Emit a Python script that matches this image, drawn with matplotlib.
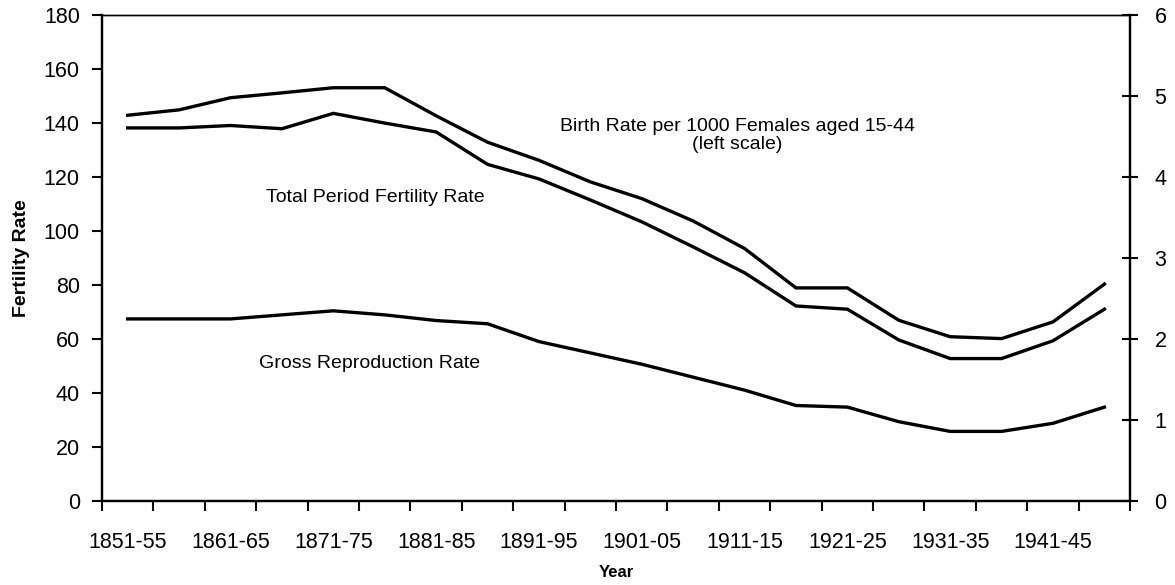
import numpy as np
import matplotlib.pyplot as plt

plt.rcParams['font.family'] = ['Liberation Sans', 'DejaVu Sans']

periods = ['1851-55', '1856-60', '1861-65', '1866-70', '1871-75', '1876-80',
           '1881-85', '1886-90', '1891-95', '1896-00', '1901-05', '1906-10',
           '1911-15', '1916-20', '1921-25', '1926-30', '1931-35', '1936-40',
           '1941-45', '1946-50']
# birth rate per 1000 females 15-44 (left scale)
birth = [143, 145, 149.5, 151.3, 153.2, 153.2, 142.8, 133, 126.3, 118.3,
         112.1, 103.8, 93.6, 79, 79, 67, 60.9, 60.2, 66.4, 80.4]
# total period fertility rate (right scale)
tpfr = [4.61, 4.61, 4.64, 4.60, 4.79, 4.67, 4.56, 4.16, 3.98, 3.72,
        3.45, 3.14, 2.82, 2.41, 2.37, 1.99, 1.76, 1.76, 1.98, 2.37]
# gross reproduction rate (right scale)
grr = [2.25, 2.25, 2.25, 2.30, 2.35, 2.30, 2.23, 2.19, 1.97, 1.83,
       1.69, 1.53, 1.37, 1.18, 1.16, 0.98, 0.86, 0.86, 0.96, 1.16]

x = np.arange(len(periods))

fig = plt.figure(figsize=(11.75, 5.85), dpi=100)
ax = fig.add_axes([0.0868, 0.1436, 0.875, 0.83])
ax2 = ax.twinx()

ax.plot(x, birth, color='k', lw=2.4, solid_joinstyle='miter')
ax2.plot(x, tpfr, color='k', lw=2.4, solid_joinstyle='miter')
ax2.plot(x, grr, color='k', lw=2.4, solid_joinstyle='miter')

ax.set_xlim(-0.5, len(periods) - 0.5)
ax.set_ylim(0, 180)
ax2.set_ylim(0, 6)
ax.set_yticks(np.arange(0, 181, 20))
ax2.set_yticks(np.arange(0, 7, 1))

# ticks on category boundaries, labels on every other category
ax.set_xticks(np.arange(-0.5, len(periods), 1))
ax.set_xticklabels([])
ax.set_xticks(x[::2], minor=True)
ax.set_xticklabels(periods[::2], minor=True)
ax.tick_params(axis='x', which='major', direction='out', length=7, width=1.5)
ax.tick_params(axis='x', which='minor', length=0, pad=22, labelsize=15.5)
ax.tick_params(axis='y', direction='out', length=7, width=1.5, pad=9, labelsize=15.5)
ax2.tick_params(axis='y', direction='inout', length=11, width=1.5, pad=12, labelsize=15.5)

for a in (ax, ax2):
    for s in ['left', 'right', 'bottom']:
        a.spines[s].set_linewidth(1.6)
    a.spines['top'].set_linewidth(1.0)

ax.set_ylabel('Fertility Rate', fontsize=14, fontweight='bold', labelpad=10)
ax.set_xlabel('Year', fontsize=12, fontweight='bold', labelpad=9)

ax.text(11.86, 135.5, 'Birth Rate per 1000 Females aged 15-44\n(left scale)',
        ha='center', va='center', fontsize=14, linespacing=1.1)
ax.text(4.81, 112.6, 'Total Period Fertility Rate', ha='center', va='center', fontsize=14)
ax.text(4.71, 51.1, 'Gross Reproduction Rate', ha='center', va='center', fontsize=14)

fig.savefig('out.png', dpi=100)
